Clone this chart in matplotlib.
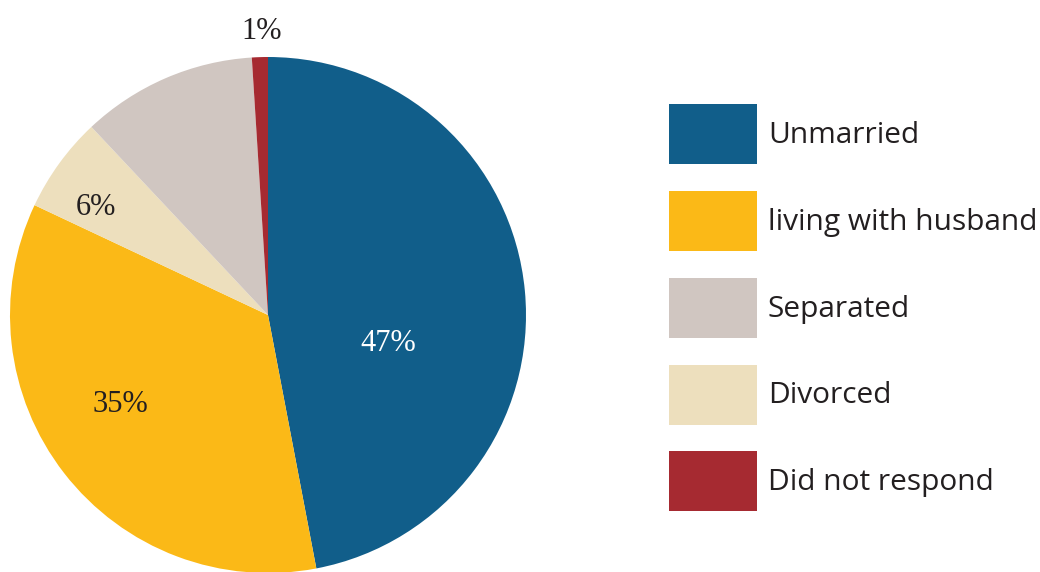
import matplotlib.pyplot as plt
from matplotlib.patches import Patch

categories = ["Unmarried", "living with husband", "Divorced", "Separated", "Did not respond"]
shares = [47, 35, 6, 11, 1]
colors = ["#115E8A", "#FBB917", "#EDDFBD", "#D0C6C1", "#A62A31"]
pct_labels = ["47%", "35%", "6%", "", "1%"]
# label positions in pie-radius units
label_pos = [(0.465, -0.11), (-0.574, -0.345), (-0.667, 0.415), None, (-0.023, 1.10)]
label_colors = ["white", "#231F20", "#231F20", "#231F20", "#231F20"]

legend_order = ["Unmarried", "living with husband", "Separated", "Divorced", "Did not respond"]

W, H = 1040, 572
fig = plt.figure(figsize=(W / 100, H / 100), dpi=100)

cx, cy, r = 268, 315, 258
ax = fig.add_axes([(cx - r) / W, (H - cy - r) / H, 2 * r / W, 2 * r / H])
wedges, _ = ax.pie(shares, colors=colors, startangle=90, counterclock=False,
                   radius=1, wedgeprops=dict(linewidth=0))
for w in wedges:
    w.set_clip_on(False)
ax.set_xlim(-1, 1)
ax.set_ylim(-1, 1)
ax.set_aspect("equal")
ax.axis("off")

for txt, pos, c in zip(pct_labels, label_pos, label_colors):
    if not txt:
        continue
    ax.text(pos[0], pos[1], txt, ha="center", va="center", color=c,
            fontsize=22, family="Liberation Serif")

handles = [Patch(facecolor=colors[categories.index(n)], edgecolor="none") for n in legend_order]
leg = fig.legend(handles, legend_order, loc="upper left",
                 bbox_to_anchor=(657 / W, 1 - 92 / H),
                 frameon=False, prop=dict(family="Open Sans", size=21.5),
                 handlelength=2.95, handleheight=2.714, handletextpad=0.36,
                 labelspacing=0.90, borderaxespad=0)
for t in leg.get_texts():
    t.set_color("#231F20")

fig.savefig("out.png", dpi=100)
